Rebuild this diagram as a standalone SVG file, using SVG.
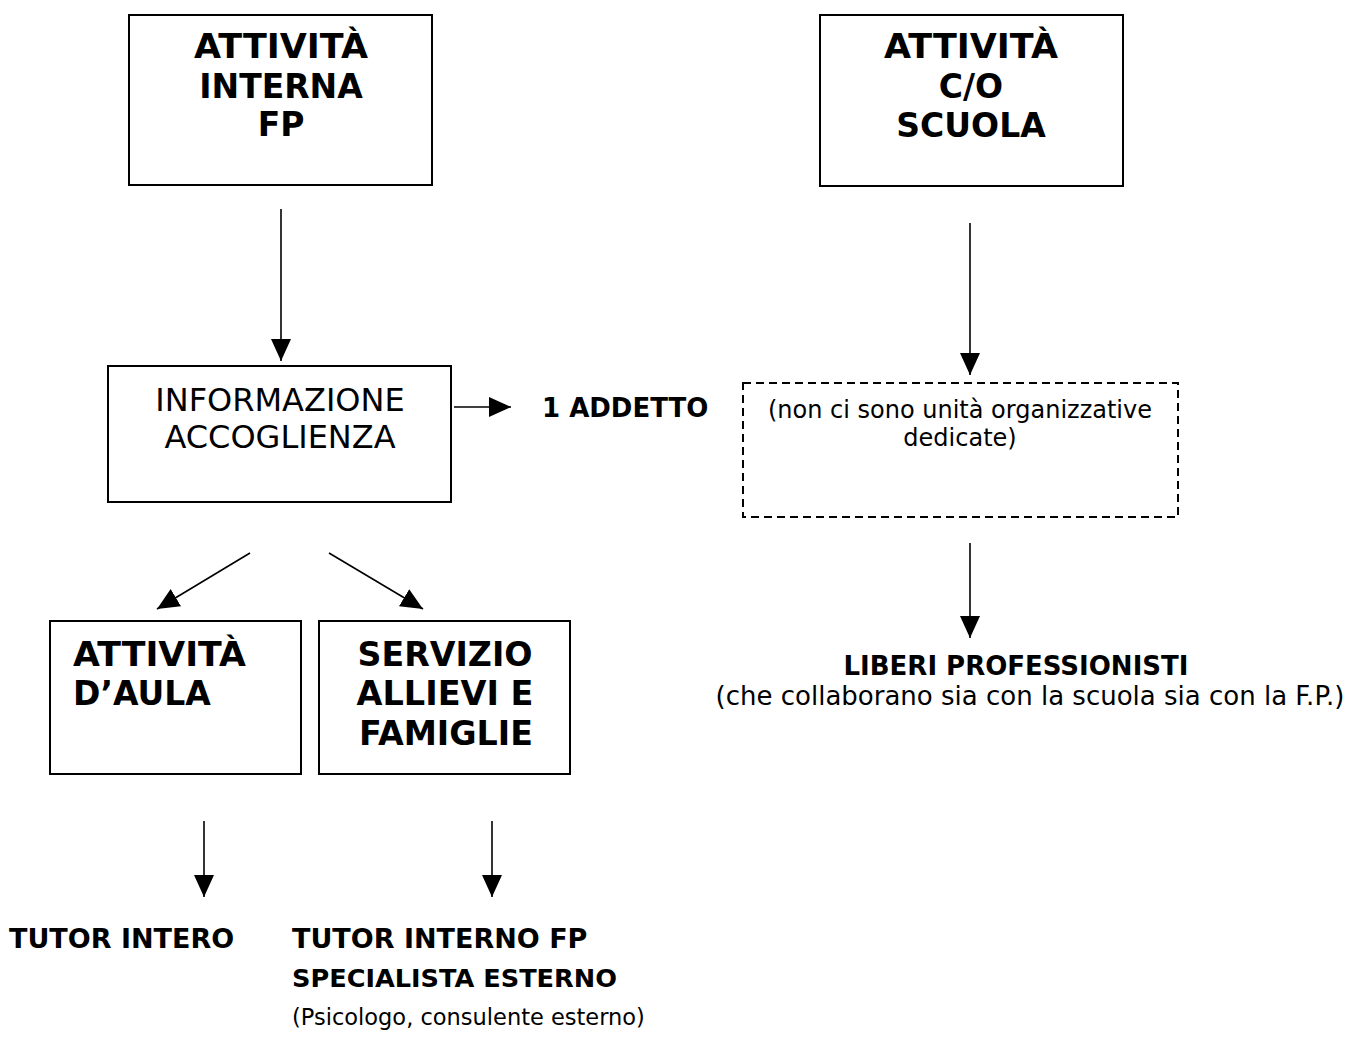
<svg xmlns="http://www.w3.org/2000/svg" width="1362" height="1042" viewBox="0 0 1362 1042">
<style>
.box{fill:#fff;stroke:#000;stroke-width:2}
.dash{fill:#fff;stroke:#000;stroke-width:2;stroke-dasharray:8 5}
.hb{font-family:"DejaVu Sans",Verdana,sans-serif;font-weight:bold;font-size:33px;fill:#000}
.rg{font-family:"DejaVu Sans",Verdana,sans-serif;font-size:32px;fill:#000}
.lb{font-family:"DejaVu Sans",Verdana,sans-serif;font-weight:bold;font-size:26px;fill:#000}
.sm{font-family:"DejaVu Sans",Verdana,sans-serif;font-size:24px;fill:#000}
.c{text-anchor:middle}
.conn line{stroke:#000;stroke-width:1.6;marker-end:url(#ah)}
</style>
<defs>
<marker id="ah" viewBox="0 0 22 20" refX="22" refY="10" markerWidth="22" markerHeight="20" markerUnits="userSpaceOnUse" orient="auto">
<path d="M0,0 L22,10 L0,20 z" fill="#000"/>
</marker>
</defs>
<rect width="1362" height="1042" fill="#fff"/>
<g id="n-attivita-interna">
<rect class="box" x="129" y="15" width="303" height="170"/>
<text class="hb c" x="281" y="58" textLength="174" lengthAdjust="spacingAndGlyphs">ATTIVITÀ</text>
<text class="hb c" x="281" y="98">INTERNA</text>
<text class="hb c" x="281" y="136">FP</text>
</g>
<g id="n-attivita-scuola">
<rect class="box" x="820" y="15" width="303" height="171"/>
<text class="hb c" x="971" y="58" textLength="174" lengthAdjust="spacingAndGlyphs">ATTIVITÀ</text>
<text class="hb c" x="971" y="98">C/O</text>
<text class="hb c" x="971" y="137">SCUOLA</text>
</g>
<g id="n-informazione">
<rect class="box" x="108" y="366" width="343" height="136"/>
<text class="rg c" x="280" y="411">INFORMAZIONE</text>
<text class="rg c" x="280" y="448">ACCOGLIENZA</text>
</g>
<g id="n-addetto">
<text class="lb" x="542" y="417">1 ADDETTO</text>
</g>
<g id="n-non-dedicate">
<rect class="dash" x="743" y="383" width="435" height="134"/>
<text class="sm c" x="960" y="418">(non ci sono unità organizzative</text>
<text class="sm c" x="960" y="446">dedicate)</text>
</g>
<g id="n-attivita-aula">
<rect class="box" x="50" y="621" width="251" height="153"/>
<text class="hb" x="73" y="666" textLength="173" lengthAdjust="spacingAndGlyphs">ATTIVITÀ</text>
<text class="hb" x="73" y="705">D’AULA</text>
</g>
<g id="n-servizio">
<rect class="box" x="319" y="621" width="251" height="153"/>
<text class="hb c" x="445" y="666" textLength="175" lengthAdjust="spacingAndGlyphs">SERVIZIO</text>
<text class="hb c" x="445" y="705" textLength="177" lengthAdjust="spacingAndGlyphs">ALLIEVI E</text>
<text class="hb c" x="446" y="745" textLength="174" lengthAdjust="spacingAndGlyphs">FAMIGLIE</text>
</g>
<g id="n-liberi">
<text class="lb c" x="1016" y="675">LIBERI PROFESSIONISTI</text>
<text class="sm c" x="1030" y="705" style="font-size:26px">(che collaborano sia con la scuola sia con la F.P.)</text>
</g>
<g id="n-tutor-intero">
<text class="lb" x="9" y="948" style="font-size:27px">TUTOR INTERO</text>
</g>
<g id="n-tutor-interno">
<text class="lb" x="292" y="948" style="font-size:27px">TUTOR INTERNO FP</text>
<text class="lb" x="292" y="987" style="font-size:25.6px">SPECIALISTA ESTERNO</text>
<text class="sm" x="292" y="1025" style="font-size:22.5px">(Psicologo, consulente esterno)</text>
</g>
<g id="connectors" class="conn">
<line x1="281" y1="209" x2="281" y2="361"/>
<line x1="970" y1="223" x2="970" y2="375"/>
<line x1="454" y1="407" x2="511" y2="407"/>
<line x1="250" y1="553" x2="157" y2="609"/>
<line x1="329" y1="553" x2="423" y2="609"/>
<line x1="970" y1="543" x2="970" y2="638"/>
<line x1="204" y1="821" x2="204" y2="897"/>
<line x1="492" y1="821" x2="492" y2="897"/>
</g>
</svg>
